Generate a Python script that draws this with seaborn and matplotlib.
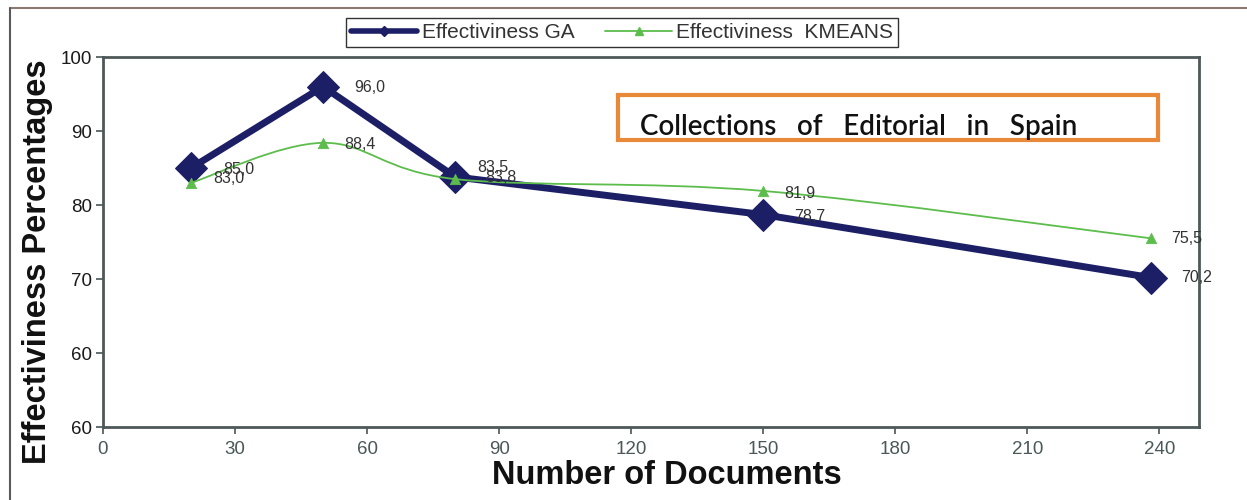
import matplotlib
matplotlib.use("Agg")
import matplotlib.pyplot as plt
import seaborn as sns
import numpy as np
import pandas as pd
from matplotlib.path import Path
from matplotlib.patches import PathPatch, Rectangle
from matplotlib.lines import Line2D

# data
docs = [20, 50, 80, 150, 238]
ga = [85.0, 96.0, 83.8, 78.7, 70.2]
kmeans = [83.0, 88.4, 83.5, 81.9, 75.5]
ytick_vals = [50, 60, 70, 80, 90, 100]
ytick_labels = ["60", "60", "70", "80", "90", "100"]
xtick_vals = [0, 30, 60, 90, 120, 150, 180, 210, 240]

sns.set_theme(style="white")
plt.rcParams["font.family"] = ["Liberation Sans", "DejaVu Sans"]

navy = "#1d1f66"
green = "#5cbd4c"

df = pd.DataFrame({"docs": docs, "ga": ga, "kmeans": kmeans})

fig = plt.figure(figsize=(12.47, 5), dpi=100)
ax = fig.add_axes([103 / 1247, 1 - 427 / 500, (1199 - 103) / 1247, (427 - 57) / 500])

# GA: straight segments, big diamonds
sns.lineplot(data=df, x="docs", y="ga", ax=ax, color=navy, linewidth=5,
             marker="D", markersize=16, markeredgecolor=navy, zorder=4)

# KMEANS: smoothed curve (Excel-style) built from the data points
pts = np.column_stack([df["docs"], df["kmeans"]]).astype(float)
verts = [tuple(pts[0])]
codes = [Path.MOVETO]
for i in range(len(pts) - 1):
    p0 = pts[max(i - 1, 0)]
    p1 = pts[i]
    p2 = pts[i + 1]
    p3 = pts[min(i + 2, len(pts) - 1)]
    c1 = p1 + (p2 - p0) / 6
    c2 = p2 - (p3 - p1) / 6
    verts += [tuple(c1), tuple(c2), tuple(p2)]
    codes += [Path.CURVE4] * 3
ax.add_patch(PathPatch(Path(verts, codes), fill=False, edgecolor=green,
                       linewidth=1.3, zorder=5))
sns.scatterplot(data=df, x="docs", y="kmeans", ax=ax, marker="^", s=55,
                color=green, edgecolor=green, zorder=6)

# data labels
ga_off = [(32, -2), (31, -1), (30, -1), (31, -2), (31, 0)]
km_off = [(22, 4), (21, -2), (22, 12), (21, -3), (21, 0)]
for x, y, (dx, dy) in zip(docs, ga, ga_off):
    ax.annotate(f"{y:.1f}".replace(".", ","), (x, y), xytext=(dx * 0.72, dy * 0.72),
                textcoords="offset points", ha="left", va="center",
                fontsize=11.5, color="#333333", zorder=7)
for x, y, (dx, dy) in zip(docs, kmeans, km_off):
    ax.annotate(f"{y:.1f}".replace(".", ","), (x, y), xytext=(dx * 0.72, dy * 0.72),
                textcoords="offset points", ha="left", va="center",
                fontsize=11.5, color="#333333", zorder=7)

ax.set_xlim(0, 249)
ax.set_ylim(50, 100)
ax.set_xticks(xtick_vals)
ax.set_yticks(ytick_vals)
ax.set_yticklabels(ytick_labels)
ax.set_xlabel("")
ax.set_ylabel("")
ax.tick_params(axis="both", direction="out", length=5, width=1.2, color="#4a5555",
               labelsize=13.5, bottom=True, left=True)
ax.tick_params(axis="x", labelcolor="#4a5858", pad=5)
ax.tick_params(axis="y", labelcolor="#1a1a1a", pad=3)
for s in ax.spines.values():
    s.set_color("#4d5858")
    s.set_linewidth(2)

# boxed title inside the plot
ax.add_patch(Rectangle((618 / 1247, 1 - 140 / 500), (1158 - 618) / 1247, (140 - 95) / 500,
                       transform=fig.transFigure, fill=False, edgecolor="#e8893a",
                       linewidth=3, zorder=8))
fig.text(640 / 1247, 1 - 127 / 500, "Collections   of   Editorial   in   Spain",
         fontsize=20, fontfamily=["Lato", "DejaVu Sans"], fontweight="semibold",
         color="#111111", ha="left", va="center")

# axis titles
fig.text(38 / 1247, 1 - 262 / 500, "Effectiviness Percentages", rotation=90,
         fontsize=23.5, fontweight="bold", color="#111111", ha="center", va="center")
fig.text(667 / 1247, 1 - 476 / 500, "Number of Documents", fontsize=23.5,
         fontweight="bold", color="#111111", ha="center", va="center")

# legend on top
handles = [
    Line2D([], [], color=navy, linewidth=4, marker="D", markersize=5),
    Line2D([], [], color=green, linewidth=1.3, marker="^", markersize=6),
]
fig.legend(handles, ["Effectiviness GA", "Effectiviness  KMEANS"], loc="center",
           bbox_to_anchor=(622 / 1247, 1 - 32.5 / 500), ncol=2, fontsize=15,
           frameon=True, fancybox=False, edgecolor="#333333", framealpha=1,
           handlelength=3.2, handletextpad=0.2, columnspacing=1.5,
           borderpad=0.25, labelcolor="#333333")

# outer frame lines (top and left)
fig.add_artist(Line2D([10 / 1247, 1], [1 - 8 / 500, 1 - 8 / 500], transform=fig.transFigure,
                      color="#8a7a72", linewidth=1.5))
fig.add_artist(Line2D([10 / 1247, 10 / 1247], [0, 1 - 8 / 500], transform=fig.transFigure,
                      color="#5a5a5a", linewidth=1.5))

fig.savefig("out.png", dpi=100)
